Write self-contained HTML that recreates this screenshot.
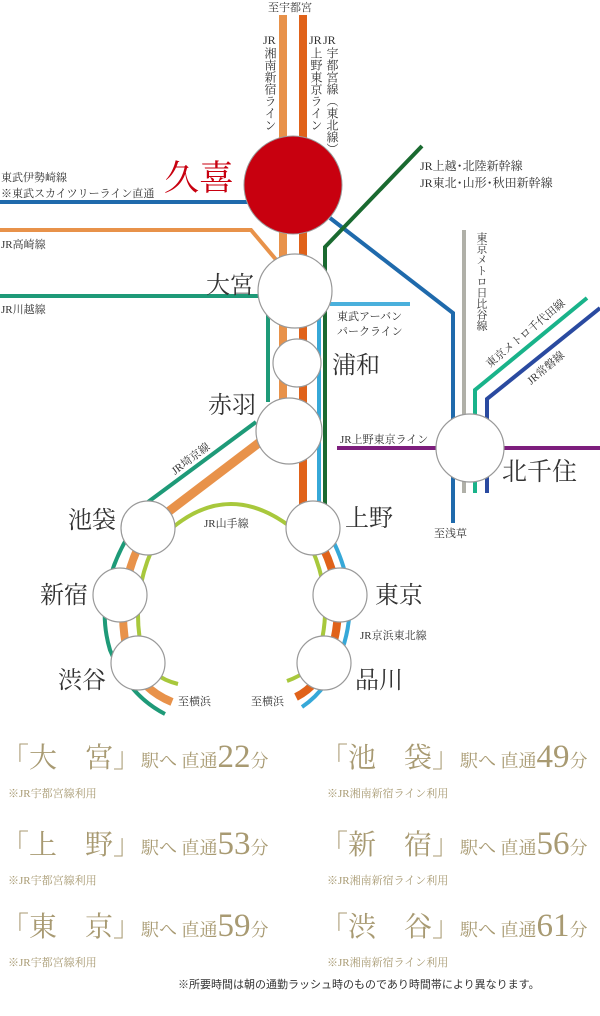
<!DOCTYPE html>
<html><head><meta charset="utf-8"><style>
html,body{margin:0;padding:0;background:#fff;width:600px;height:1016px;overflow:hidden}
svg{display:block}
text{font-family:"Liberation Serif","Noto Serif CJK JP","Noto Serif CJK SC",serif;fill:#333}
.s{font-size:11px}
.v{font-size:12px;writing-mode:vertical-rl;text-orientation:upright}
.g{fill:#a89a72}
</style></head><body>
<svg width="600" height="1016" viewBox="0 0 600 1016" xmlns="http://www.w3.org/2000/svg">
<g fill="none">
<line x1="283" y1="15" x2="283" y2="455" stroke="#e8924a" stroke-width="8"/>
<line x1="303" y1="15" x2="303" y2="505" stroke="#e0621a" stroke-width="8"/>
<line x1="0" y1="202" x2="250" y2="202" stroke="#1f6aac" stroke-width="4"/>
<polyline points="330,218 453,313 453,523" stroke="#1f6aac" stroke-width="4"/>
<polyline points="0,230 251,230 278,262" stroke="#e8924a" stroke-width="4"/>
<polyline points="0,296 268,296 268,402" stroke="#1e9a78" stroke-width="4"/>
<polyline points="422,146 325,247 325,505" stroke="#1a6a30" stroke-width="4"/>
<line x1="319" y1="300" x2="319" y2="505" stroke="#36a8d8" stroke-width="4"/>
<line x1="330" y1="304" x2="410" y2="304" stroke="#4ab0dc" stroke-width="4"/>
<line x1="464" y1="230" x2="464" y2="493" stroke="#b0b0a8" stroke-width="4"/>
<polyline points="587,298 475,390 475,493" stroke="#19b38a" stroke-width="4"/>
<polyline points="600,308 487,399 487,493" stroke="#2a4aa0" stroke-width="4"/>
<line x1="337" y1="448" x2="600" y2="448" stroke="#7d1e7d" stroke-width="4"/>
<line x1="256" y1="422" x2="148" y2="502" stroke="#1e9a78" stroke-width="4"/>
<line x1="260" y1="442" x2="168" y2="512" stroke="#e8924a" stroke-width="9"/>
<path d="M172,528 Q230,480 292,528" stroke="#a8c83c" stroke-width="4"/>
<path d="M135,525 Q92,590 110,650 Q128,695 165,714" stroke="#1e9a78" stroke-width="4"/>
<path d="M148,528 Q112,590 128,655 Q138,688 172,702" stroke="#e8924a" stroke-width="8"/>
<path d="M162,530 Q127,590 143,655 Q150,677 178,684" stroke="#a8c83c" stroke-width="4"/>
<path d="M318,515 Q365,585 342,650 Q330,688 302,707" stroke="#36a8d8" stroke-width="4"/>
<path d="M312,528 Q352,590 330,655 Q320,685 296,697" stroke="#e0621a" stroke-width="8"/>
<path d="M302,530 Q338,590 318,655 Q312,672 287,681" stroke="#a8c83c" stroke-width="4"/>
</g>
<circle cx="293" cy="185" r="49" fill="#c8000f" stroke="#999" stroke-width="1"/>
<g fill="#fff" stroke="#999" stroke-width="1.2">
<circle cx="295" cy="291" r="37"/>
<circle cx="297" cy="363" r="24"/>
<circle cx="289" cy="431" r="33"/>
<circle cx="470" cy="448" r="34"/>
<circle cx="148" cy="528" r="27"/>
<circle cx="313" cy="528" r="27"/>
<circle cx="120" cy="595" r="27"/>
<circle cx="340" cy="595" r="27"/>
<circle cx="138" cy="663" r="27"/>
<circle cx="324" cy="663" r="27"/>
</g>
<text x="268" y="11" class="s">至宇都宮</text>
<text x="263" y="44" font-size="12">JR</text>
<text class="v" x="270" y="47">湘南新宿ライン</text>
<text x="309" y="44" font-size="12">JR</text>
<text class="v" x="316" y="47">上野東京ライン</text>
<text x="323" y="44" font-size="12">JR</text>
<text class="v" x="332" y="47">宇都宮線（東北線）</text>
<text x="164" y="190" font-size="35" style="fill:#c8000f">久喜</text>
<text x="1" y="181" class="s">東武伊勢崎線</text>
<text x="1" y="197" class="s">※東武スカイツリーライン直通</text>
<text x="420" y="170" font-size="12">JR上越･北陸新幹線</text>
<text x="420" y="187" font-size="12">JR東北･山形･秋田新幹線</text>
<text x="1" y="248" class="s">JR高崎線</text>
<text x="206" y="293" font-size="24">大宮</text>
<text x="1" y="313" class="s">JR川越線</text>
<text x="337" y="320" class="s">東武アーバン</text>
<text x="337" y="335" class="s">パークライン</text>
<text x="332" y="373" font-size="24">浦和</text>
<text x="208" y="413" font-size="24">赤羽</text>
<text class="v" x="481" y="232" style="font-size:11px">東京メトロ日比谷線</text>
<text class="s" transform="translate(490,368) rotate(-40)">東京メトロ千代田線</text>
<text class="s" transform="translate(531,385) rotate(-40)">JR常磐線</text>
<text x="340" y="443" class="s">JR上野東京ライン</text>
<text x="502" y="480" font-size="25">北千住</text>
<text x="434" y="537" class="s">至浅草</text>
<text class="s" transform="translate(175,475) rotate(-37)">JR埼京線</text>
<text x="204" y="527" class="s">JR山手線</text>
<text x="68" y="528" font-size="24">池袋</text>
<text x="345" y="526" font-size="24">上野</text>
<text x="40" y="603" font-size="24">新宿</text>
<text x="375" y="603" font-size="24">東京</text>
<text x="360" y="639" class="s">JR京浜東北線</text>
<text x="58" y="688" font-size="24">渋谷</text>
<text x="355" y="688" font-size="24">品川</text>
<text x="178" y="705" class="s">至横浜</text>
<text x="251" y="705" class="s">至横浜</text>
<g>
<text x="1" y="767" class="g"><tspan font-size="28">「大　宮」</tspan><tspan font-size="18">駅へ 直通</tspan><tspan font-size="33">22</tspan><tspan font-size="18">分</tspan></text>
<text x="8" y="797" class="g" font-size="11">※JR宇都宮線利用</text>
<text x="1" y="854" class="g"><tspan font-size="28">「上　野」</tspan><tspan font-size="18">駅へ 直通</tspan><tspan font-size="33">53</tspan><tspan font-size="18">分</tspan></text>
<text x="8" y="884" class="g" font-size="11">※JR宇都宮線利用</text>
<text x="1" y="936" class="g"><tspan font-size="28">「東　京」</tspan><tspan font-size="18">駅へ 直通</tspan><tspan font-size="33">59</tspan><tspan font-size="18">分</tspan></text>
<text x="8" y="966" class="g" font-size="11">※JR宇都宮線利用</text>
<text x="320" y="767" class="g"><tspan font-size="28">「池　袋」</tspan><tspan font-size="18">駅へ 直通</tspan><tspan font-size="33">49</tspan><tspan font-size="18">分</tspan></text>
<text x="327" y="797" class="g" font-size="11">※JR湘南新宿ライン利用</text>
<text x="320" y="854" class="g"><tspan font-size="28">「新　宿」</tspan><tspan font-size="18">駅へ 直通</tspan><tspan font-size="33">56</tspan><tspan font-size="18">分</tspan></text>
<text x="327" y="884" class="g" font-size="11">※JR湘南新宿ライン利用</text>
<text x="320" y="936" class="g"><tspan font-size="28">「渋　谷」</tspan><tspan font-size="18">駅へ 直通</tspan><tspan font-size="33">61</tspan><tspan font-size="18">分</tspan></text>
<text x="327" y="966" class="g" font-size="11">※JR湘南新宿ライン利用</text>
</g>
<text x="178" y="988" font-size="11" style="font-family:'Liberation Sans','Noto Sans CJK JP',sans-serif">※所要時間は朝の通勤ラッシュ時のものであり時間帯により異なります。</text>
</svg>
</body></html>
